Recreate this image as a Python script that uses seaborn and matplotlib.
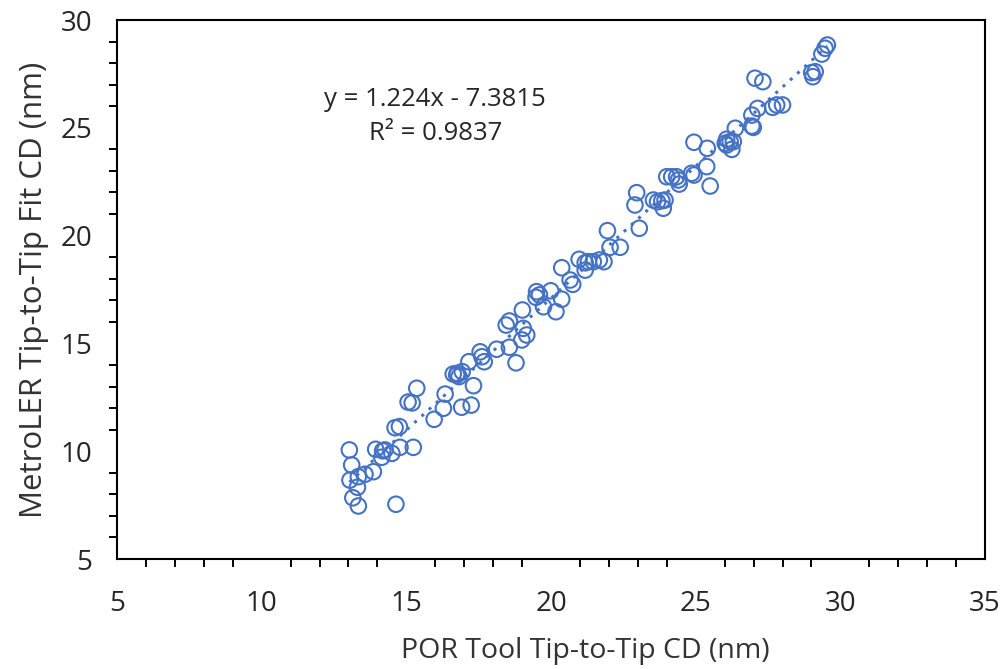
import numpy as np
import pandas as pd
import matplotlib
matplotlib.use("Agg")
import matplotlib.pyplot as plt
import seaborn as sns
from matplotlib.ticker import MultipleLocator

por_cd = [13.03, 13.11, 13.05, 13.34, 13.57, 13.86, 13.31, 13.15, 13.34, 14.64,
          13.94, 14.18, 14.26, 14.5, 14.15, 14.78, 15.24, 14.61, 14.76, 15.06,
          15.2, 15.36, 15.96, 16.28, 16.34, 16.91, 17.24, 17.32, 16.62, 16.74,
          16.76, 16.82, 16.93, 17.16, 17.55, 17.61, 17.69, 18.12, 18.56, 18.79,
          18.45, 18.56, 18.99, 19.16, 19.04, 19.01, 19.5, 19.6, 19.48, 19.99,
          19.74, 20.17, 20.37, 20.37, 20.66, 20.75, 20.97, 21.18, 21.29, 21.46,
          21.67, 21.83, 21.18, 21.95, 22.04, 22.39, 22.96, 22.9, 23.05, 23.54,
          23.68, 23.83, 23.94, 23.88, 24.0, 24.17, 24.34, 24.4, 24.43, 24.86,
          24.94, 24.94, 25.4, 25.38, 25.5, 26.07, 26.02, 26.19, 26.3, 26.25,
          26.07, 26.37, 26.94, 26.99, 26.94, 27.14, 27.66, 27.8, 28.0, 27.05,
          27.32, 29.01, 29.13, 29.05, 29.36, 29.47, 29.55]
metroler_cd = [10.06, 9.36, 8.66, 8.82, 8.93, 9.05, 8.33, 7.84, 7.46, 7.54,
               10.09, 10.02, 10.06, 9.9, 9.72, 10.18, 10.18, 11.09, 11.14, 12.28,
               12.24, 12.92, 11.48, 11.99, 12.65, 12.04, 12.14, 13.04, 13.58, 13.53,
               13.61, 13.46, 13.69, 14.15, 14.61, 14.38, 14.15, 14.73, 14.82, 14.1,
               15.85, 16.04, 15.16, 15.39, 15.7, 16.55, 17.4, 17.25, 17.14, 17.44,
               16.7, 16.47, 17.05, 18.51, 17.94, 17.74, 18.9, 18.74, 18.79, 18.79,
               18.87, 18.79, 18.4, 20.23, 19.46, 19.46, 21.99, 21.42, 20.34, 21.65,
               21.57, 21.62, 21.65, 21.27, 22.73, 22.73, 22.73, 22.58, 22.39, 22.89,
               22.81, 24.33, 24.05, 23.2, 22.3, 24.47, 24.28, 24.36, 24.36, 24.0,
               24.2, 24.98, 25.08, 25.02, 25.59, 25.9, 25.95, 26.06, 26.06, 27.3,
               27.14, 27.56, 27.6, 27.37, 28.42, 28.69, 28.84]
slope = 1.224
intercept = -7.3815
r_squared = 0.9837
x_ticks = [5, 10, 15, 20, 25, 30, 35]
y_ticks = [5, 10, 15, 20, 25, 30]

sns.set_style("white")
plt.rcParams['font.family'] = ['Open Sans', 'DejaVu Sans']

fig = plt.figure(figsize=(10.07, 6.69), dpi=100)
ax = fig.add_axes([0.1162, 0.1644, 0.8620, 0.8057])

blue = "#4472C4"
text_col = "#262626"
df = pd.DataFrame({"x": por_cd, "y": metroler_cd})
sns.scatterplot(data=df, x="x", y="y", ax=ax, marker="o", s=125,
                facecolor="none", edgecolor=blue, linewidth=1.5, zorder=3)

xmin, xmax = min(por_cd), max(por_cd)
line_df = pd.DataFrame({"x": [xmin, xmax],
                        "y": [slope * xmin + intercept, slope * xmax + intercept]})
sns.lineplot(data=line_df, x="x", y="y", ax=ax, color=blue, linewidth=2.2,
             linestyle=(0, (1, 2.2)), zorder=2)

ax.text(16.0, 26.3, f"y = {slope}x - {abs(intercept)}", ha="center", va="center",
        fontsize=18.5, color=text_col)
ax.text(16.0, 24.75, f"R² = {r_squared}", ha="center", va="center",
        fontsize=18.5, color=text_col)

ax.set_xlim(5, 35)
ax.set_ylim(5, 30)
ax.set_xticks(x_ticks)
ax.set_yticks(y_ticks)
ax.xaxis.set_minor_locator(MultipleLocator(1))
ax.yaxis.set_minor_locator(MultipleLocator(1))
ax.tick_params(which="major", direction="inout", length=12, width=1.4,
               labelsize=20, color="black", labelcolor=text_col)
ax.tick_params(axis="x", which="major", pad=16)
ax.tick_params(axis="y", which="major", pad=12)
ax.tick_params(which="minor", direction="out", length=6, width=1.4,
               bottom=True, left=True, color="black")
ax.tick_params(axis="both", which="both", top=False, right=False)
for sp in ax.spines.values():
    sp.set_color("black")
    sp.set_linewidth(1.5)

ax.set_xlabel("POR Tool Tip-to-Tip CD (nm)", fontsize=20.5, color="#333333", labelpad=14)
ax.xaxis.label.set_x(0.539)
ax.set_ylabel("MetroLER Tip-to-Tip Fit CD (nm)", fontsize=22.5, color="#333333", labelpad=8)

fig.savefig("out.png", dpi=100)
